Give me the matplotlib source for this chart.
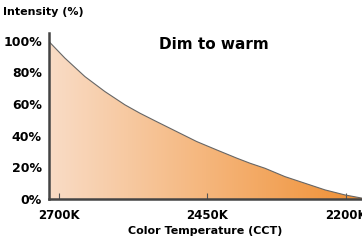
import numpy as np
import matplotlib.pyplot as plt
from matplotlib.colors import LinearSegmentedColormap

# curve (x as fraction of the axis width)
pos = [0.0, 0.051, 0.115, 0.179, 0.243, 0.291, 0.344, 0.408, 0.472, 0.536,
       0.600, 0.642, 0.690, 0.754, 0.818, 0.882, 0.946, 1.0]
intensity = [99.6, 89.1, 77.4, 67.9, 59.5, 54.2, 48.9, 42.6, 36.3, 31.0,
             25.8, 22.6, 19.4, 14.1, 9.9, 5.7, 2.5, 0.5]
tick_pos = [0.032, 0.505, 0.949]
tick_labels = ['2700K', '2450K', '2200K']
y_ticks = [0, 20, 40, 60, 80, 100]

plt.rcParams['font.family'] = 'DejaVu Sans'
fig = plt.figure(figsize=(3.62, 2.42), dpi=100)
ax = fig.add_axes([0.135, 0.178, 0.865, 0.686])

cmap = LinearSegmentedColormap.from_list('warm', ['#f9dcc6', '#f5b67c', '#ef8f33'])
grad = np.linspace(0, 1, 256).reshape(1, -1)
img = ax.imshow(grad, extent=[0, 1, 0, 100], aspect='auto', cmap=cmap, zorder=1)
poly = ax.fill_between(pos, intensity, 0, color='none')
img.set_clip_path(poly.get_paths()[0], transform=ax.transData)
ax.plot(pos, intensity, color='#666666', lw=0.8, zorder=2)

ax.set_xlim(0, 1)
ax.set_ylim(0, 105)
ax.set_xticks(tick_pos)
ax.set_xticklabels(tick_labels, fontsize=8.5, fontweight='bold')
ax.set_yticks(y_ticks)
ax.set_yticklabels([f'{v}%' for v in y_ticks], fontsize=9, fontweight='bold')
ax.tick_params(axis='x', direction='in', length=4, color='#555555', pad=7)
ax.tick_params(axis='y', length=0, pad=5)
for s in ['top', 'right']:
    ax.spines[s].set_visible(False)
for s in ['left', 'bottom']:
    ax.spines[s].set_color('#444444')
    ax.spines[s].set_linewidth(1.8)
ax.set_xlabel('Color Temperature (CCT)', fontsize=8, fontweight='bold', labelpad=3)
ax.set_facecolor('white')

fig.text(0.008, 0.95, 'Intensity (%)', fontsize=8, fontweight='bold', va='center')
fig.text(0.59, 0.815, 'Dim to warm', fontsize=11, fontweight='bold', ha='center', va='center')

fig.savefig('out.png', dpi=100)
